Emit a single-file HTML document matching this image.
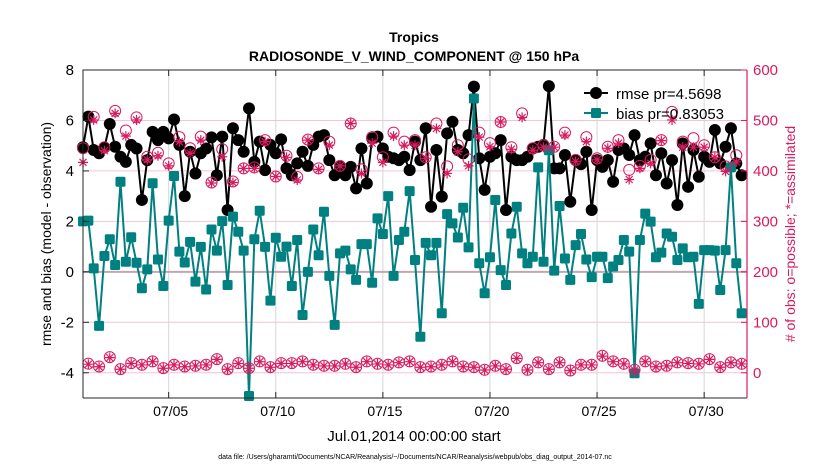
<!DOCTYPE html>
<html><head><meta charset="utf-8">
<style>
html,body{margin:0;padding:0;background:#fff;}
svg{display:block;font-family:"Liberation Sans",sans-serif;}
</style></head>
<body>
<svg id="chart" width="830" height="470" viewBox="0 0 830 470" xmlns="http://www.w3.org/2000/svg">
<rect x="0" y="0" width="830" height="470" fill="#fff"/>
<text x="414" y="42" text-anchor="middle" font-size="14" font-weight="bold">Tropics</text>
<text x="414" y="61" text-anchor="middle" font-size="14" font-weight="bold">RADIOSONDE_V_WIND_COMPONENT @ 150 hPa</text>
<g id="grid"></g>
<g id="series"></g>
<g id="axes"></g>
<text x="414" y="441" text-anchor="middle" font-size="15">Jul.01,2014 00:00:00 start</text>
<text transform="translate(51,234) rotate(-90)" text-anchor="middle" font-size="14">rmse and bias (model - observation)</text>
<text transform="translate(795,234) rotate(-90)" text-anchor="middle" font-size="14" fill="#d81b60"># of obs: o=possible; *=assimilated</text>
<text x="415" y="459" text-anchor="middle" font-size="7">data file: /Users/gharamti/Documents/NCAR/Reanalysis/~/Documents/NCAR/Reanalysis/webpub/obs_diag_output_2014-07.nc</text>
<g>
<line x1="584" y1="93" x2="608" y2="93" stroke="#000" stroke-width="2"/>
<circle cx="596" cy="93" r="6" fill="#000"/>
<text x="616" y="99" font-size="15">rmse pr=4.5698</text>
<line x1="584" y1="113" x2="608" y2="113" stroke="#008080" stroke-width="2"/>
<rect x="591" y="108" width="10" height="10" rx="1.5" fill="#008080"/>
<text x="616" y="119" font-size="15">bias pr=0.83053</text>
</g>
</svg>
<script>
const rmse=[4.94,6.15,4.83,4.70,4.93,5.86,4.96,4.56,4.36,5.03,4.89,2.85,4.43,5.55,5.22,5.55,5.29,6.04,5.03,3.00,4.76,3.90,4.70,4.89,5.33,3.83,5.36,2.45,5.69,5.22,4.76,6.48,4.36,5.16,4.03,5.03,4.70,5.25,4.10,3.83,4.30,4.76,4.2,5.03,5.36,5.42,4.43,3.83,4.16,3.83,4.16,3.31,4.89,3.50,5.29,5.36,4.89,4.56,4.50,4.43,4.56,4.03,5.16,4.43,5.69,2.58,4.83,2.98,5.49,5.95,4.83,4.70,5.42,7.34,4.50,3.25,4.56,4.70,5.22,2.45,4.56,4.43,4.43,4.56,4.89,4.96,5.03,7.36,4.10,4.10,4.63,2.78,4.43,4.27,4.76,2.45,4.43,4.16,4.43,3.57,4.83,4.89,4.63,5.42,4.43,4.56,5.09,3.83,4.70,3.50,4.43,2.65,5.09,3.37,4.83,3.77,4.56,4.36,5.62,4.30,4.96,5.69,4.30,3.83];
const bias=[2.0,2.03,0.14,-2.14,0.63,1.29,0.27,3.57,0.40,1.37,0.36,-0.65,0.10,3.51,0.49,-0.56,2.03,3.80,0.80,0.37,1.19,-0.39,0.99,-0.70,1.68,0.84,2.01,-0.52,2.19,1.59,0.84,-4.92,1.29,2.42,0.99,-1.14,1.35,0.60,1.00,-0.56,1.26,-1.71,0.00,1.68,0.66,2.38,-0.16,-2.10,0.73,0.84,0.10,-0.32,1.10,1.10,-0.43,2.12,1.50,3.00,-0.16,1.26,1.59,3.20,0.47,-2.57,1.15,0.66,1.15,-1.64,2.29,1.92,1.36,2.54,0.97,6.87,0.34,-0.85,0.58,2.85,0.07,-0.52,1.52,2.58,0.73,0.34,0.60,4.14,0.40,4.82,0.05,2.61,0.53,-0.32,1.06,1.50,0.49,-0.21,0.60,0.60,-0.25,0.21,0.47,1.26,0.80,-4.02,1.26,2.31,1.99,0.58,0.76,1.52,1.39,0.47,0.93,0.58,0.60,-1.27,0.86,0.86,0.84,-0.72,0.86,4.14,0.34,-1.64];
const possible=[445,18,507,12.5,447,31,519,7.3,480,19.2,506,15.9,428,22.5,436,9.3,415,15.9,467,12.5,445,13.9,468,15.9,377,27.1,443,7.3,379,19.2,405,9.3,407,22.5,461,11.2,389,19.2,430,19.2,388,22.5,462,15.9,405,13.9,458,13.9,410,17.8,494,11.2,403,22.5,467,17.8,427,15.9,476,20.5,458,22.5,461,11.2,427,12.5,494,15.9,409,22.5,451,12.5,423,11.2,476,5.9,455,13.9,497,7.3,447,29.1,514,5.9,445,20.5,451,7.3,448,20.5,476,4.6,422,15.9,467,15.9,425,33.7,448,22.5,461,17.8,402,5.9,410,22.5,422,12.5,461,13.9,517,20.5,458,19.2,465,17.8,451,27.1,427,11.2,409,20.5,431,17.8];
const assimilated=[417,17,501,12,440,30,514,7,469,18.5,501,15.5,422,22,430,9,410,15.5,458,12,435,13.5,461,15.5,376,26.5,428,7,377,18.5,405,9,405,22,458,11,389,18.5,427,18.5,382,22,461,15.5,403,13.5,451,13.5,410,17.5,494,11,395,22,455,17.5,417,15.5,469,20,451,22,451,11,425,12,484,15.5,395,22,438,12,410,11,467,5.5,448,13.5,497,7,443,28.5,506,5.5,441,20,447,7,447,20,471,4.5,419,15.5,458,15.5,422,33,445,22,455,17.5,383,5.5,405,22,415,12,460,13.5,501,20,447,18.5,447,17.5,447,26.5,427,11,399,20,418,17.5];
const leftTicks=[-4,-2,0,2,4,6,8];
const rightTicks=[0,100,200,300,400,500,600];
const dateTicks=[4,9,14,19,24,29];
const dateLabels=["07/05","07/10","07/15","07/20","07/25","07/30"];
const timeStep=0.25;

const NS="http://www.w3.org/2000/svg";
const L=83,R=747,T=70,B=398;
const X0=0,X1=31.0;
function xs(t){return L+(t-X0)/(X1-X0)*(R-L);}
function yl(v){return B-(v-(-5))/(8-(-5))*(B-T);}
function yr(v){return B-(v-(-50))/(600-(-50))*(B-T);}
function mk(tag,attrs,parent){const e=document.createElementNS(NS,tag);for(const k in attrs)e.setAttribute(k,attrs[k]);parent.appendChild(e);return e;}
const grid=document.getElementById('grid'),ser=document.getElementById('series'),ax=document.getElementById('axes');
const PINK="#d81b60";

rightTicks.forEach(v=>{const e=mk('line',{x1:L,x2:R,y1:yr(v),y2:yr(v),stroke:"#f2c4d4","stroke-width":1},grid);

});
dateTicks.forEach(t=>{const e=mk('line',{x1:xs(t),x2:xs(t),y1:T,y2:B,stroke:"#d6d6d6","stroke-width":1},grid);

});
const zl=mk('line',{x1:L,x2:R,y1:yl(0),y2:yl(0),stroke:"#c2a6b0","stroke-width":2},grid);



let p=rmse.map((v,i)=>xs(i*timeStep)+","+yl(v)).join(" ");
const rl=mk('polyline',{points:p,fill:"none",stroke:"#000","stroke-width":2},ser);


rmse.forEach((v,i)=>{const c=mk('circle',{cx:xs(i*timeStep),cy:yl(v),r:6,fill:"#000"},ser);

});
p=bias.map((v,i)=>xs(i*timeStep)+","+yl(v)).join(" ");
const bl=mk('polyline',{points:p,fill:"none",stroke:"#008080","stroke-width":2},ser);


bias.forEach((v,i)=>{const r=mk('rect',{x:xs(i*timeStep)-5,y:yl(v)-5,width:10,height:10,rx:1.5,fill:"#008080"},ser);

});
possible.forEach((v,i)=>{const c=mk('circle',{cx:xs(i*timeStep),cy:yr(v),r:5.5,fill:"none",stroke:PINK,"stroke-width":1},ser);

});
assimilated.forEach((v,i)=>{const cx=xs(i*timeStep),cy=yr(v),s=5;
const g=mk('path',{d:`M${cx-s},${cy}H${cx+s}M${cx},${cy-s}V${cy+s}M${cx-s*0.7},${cy-s*0.7}L${cx+s*0.7},${cy+s*0.7}M${cx-s*0.7},${cy+s*0.7}L${cx+s*0.7},${cy-s*0.7}`,stroke:PINK,"stroke-width":1.2,fill:"none"},ser);

});

const fr=mk('path',{d:`M${L},${B}V${T}H${R}`,fill:"none",stroke:"#262626","stroke-width":1},ax);


const bx=mk('line',{x1:L,x2:R,y1:B,y2:B,stroke:"#262626","stroke-width":1},ax);


const ry=mk('line',{x1:R,x2:R,y1:T,y2:B,stroke:PINK,"stroke-width":1.2},ax);


leftTicks.forEach(v=>{const y=yl(v);
mk('line',{x1:L,x2:L+6,y1:y,y2:y,stroke:"#262626"},ax);
const t=mk('text',{x:L-9,y:y+5,"text-anchor":"end","font-size":15},ax);t.textContent=String(v);

});
rightTicks.forEach(v=>{const y=yr(v);
mk('line',{x1:R-6,x2:R,y1:y,y2:y,stroke:PINK},ax);
const t=mk('text',{x:R+6,y:y+5,"font-size":15,fill:PINK},ax);t.textContent=String(v);

});
dateTicks.forEach((d,i)=>{const x=xs(d);
mk('line',{x1:x,x2:x,y1:B,y2:B-6,stroke:"#262626"},ax);
mk('line',{x1:x,x2:x,y1:T,y2:T+6,stroke:"#262626"},ax);
const t=mk('text',{x:x+2,y:416,"text-anchor":"middle","font-size":14},ax);t.textContent=dateLabels[i];

});
</script>
</body></html>
